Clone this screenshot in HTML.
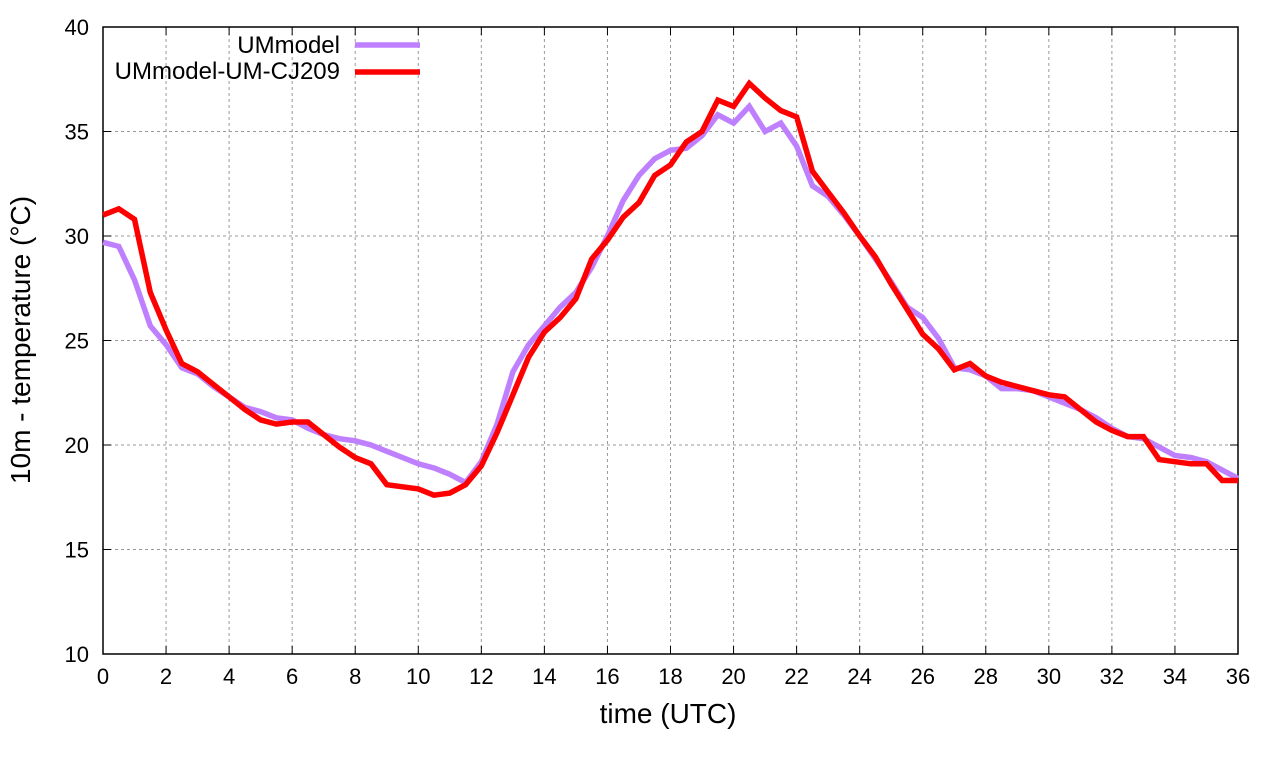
<!DOCTYPE html>
<html><head><meta charset="utf-8"><style>
html,body{margin:0;padding:0;background:#fff;}
svg{display:block;font-family:"Liberation Sans",sans-serif;}
</style></head><body>
<svg id="chart" width="1280" height="760" xmlns="http://www.w3.org/2000/svg">
<g id="grid"></g>
<g id="axes"></g>
<g id="series"></g>
<g id="legend">
<text x="340" y="53" font-size="24" text-anchor="end">UMmodel</text>
<line x1="355" y1="45" x2="420" y2="45" stroke="#bf80ff" stroke-width="5.5"/>
<text x="340" y="79" font-size="24" text-anchor="end">UMmodel-UM-CJ209</text>
<line x1="355" y1="72" x2="420" y2="72" stroke="#ff0000" stroke-width="5.5"/>
</g>
<text x="668" y="723" font-size="28" text-anchor="middle">time (UTC)</text>
<text transform="translate(30,340) rotate(-90)" font-size="28" text-anchor="middle">10m - temperature (°C)</text>
</svg>
<script>
const xTicks=[0,2,4,6,8,10,12,14,16,18,20,22,24,26,28,30,32,34,36];
const yTicks=[10,15,20,25,30,35,40];
const times=[];for(let i=0;i<=72;i++)times.push(i/2);
const umModel=[29.7,29.5,27.9,25.7,24.8,23.7,23.4,22.8,22.3,21.8,21.6,21.3,21.2,20.8,20.5,20.3,20.2,20.0,19.7,19.4,19.1,18.9,18.6,18.2,19.2,21.0,23.5,24.8,25.7,26.6,27.3,28.5,30.0,31.7,32.9,33.7,34.1,34.2,34.8,35.8,35.4,36.2,35.0,35.4,34.3,32.4,31.9,31.0,30.0,28.9,27.8,26.6,26.1,25.1,23.7,23.6,23.3,22.7,22.7,22.6,22.3,22.0,21.7,21.3,20.8,20.4,20.3,19.9,19.5,19.4,19.2,18.8,18.4];
const cj209=[31.0,31.3,30.8,27.3,25.5,23.9,23.5,22.9,22.3,21.7,21.2,21.0,21.1,21.1,20.5,19.9,19.4,19.1,18.1,18.0,17.9,17.6,17.7,18.1,19.0,20.6,22.4,24.2,25.4,26.1,27.0,28.9,29.8,30.9,31.6,32.9,33.4,34.5,35.0,36.5,36.2,37.3,36.6,36.0,35.7,33.1,32.1,31.1,30.0,29.0,27.7,26.5,25.3,24.6,23.6,23.9,23.3,23.0,22.8,22.6,22.4,22.3,21.7,21.1,20.7,20.4,20.4,19.3,19.2,19.1,19.1,18.3,18.3];
const L=103,R=1238,T=27,B=654;
const xs=v=>L+(v-0)/36*(R-L);
const ys=v=>B-(v-10)/30*(B-T);
const NS='http://www.w3.org/2000/svg';
function mk(tag,attrs,parent){const e=document.createElementNS(NS,tag);for(const k in attrs)e.setAttribute(k,attrs[k]);parent.appendChild(e);return e;}
const grid=document.getElementById('grid'),axes=document.getElementById('axes'),ser=document.getElementById('series');
xTicks.forEach(t=>{const x=xs(t);
 if(t>0&&t<36){const g=mk('line',{x1:x,y1:T,x2:x,y2:B,stroke:'#999','stroke-width':1,'stroke-dasharray':'3,3'},grid);
 
 }
 const tk=mk('line',{x1:x,y1:B,x2:x,y2:B-8,stroke:'#000'},axes);
 
 
 const tk2=mk('line',{x1:x,y1:T,x2:x,y2:T+8,stroke:'#000'},axes);
 
 
 const lb=mk('text',{x:x,y:B+30,'font-size':22,'text-anchor':'middle'},axes);lb.textContent=t;
 
 });
yTicks.forEach(t=>{const y=ys(t);
 if(t>10&&t<40){const g=mk('line',{x1:L,y1:y,x2:R,y2:y,stroke:'#999','stroke-width':1,'stroke-dasharray':'3,3'},grid);
 
 }
 const tk=mk('line',{x1:L,y1:y,x2:L+8,y2:y,stroke:'#000'},axes);
 
 
 const tk2=mk('line',{x1:R,y1:y,x2:R-8,y2:y,stroke:'#000'},axes);
 
 
 const lb=mk('text',{x:L-14,y:y+8,'font-size':22,'text-anchor':'end'},axes);lb.textContent=t;
 
 });
const fr=mk('rect',{x:L,y:T,width:R-L,height:B-T,fill:'none',stroke:'#000','stroke-width':1.5},axes);


function line(data,color,name){const d=data.map((v,i)=>(i?'L':'M')+xs(times[i]).toFixed(1)+','+ys(v).toFixed(1)).join(' ');
 const p=mk('path',{d:d,fill:'none',stroke:color,'stroke-width':5.5,'stroke-linejoin':'miter'},ser);
 
 }
line(umModel,'#bf80ff','line-ummodel');
line(cj209,'#ff0000','line-ummodel-um-cj209');
</script>
</body></html>
